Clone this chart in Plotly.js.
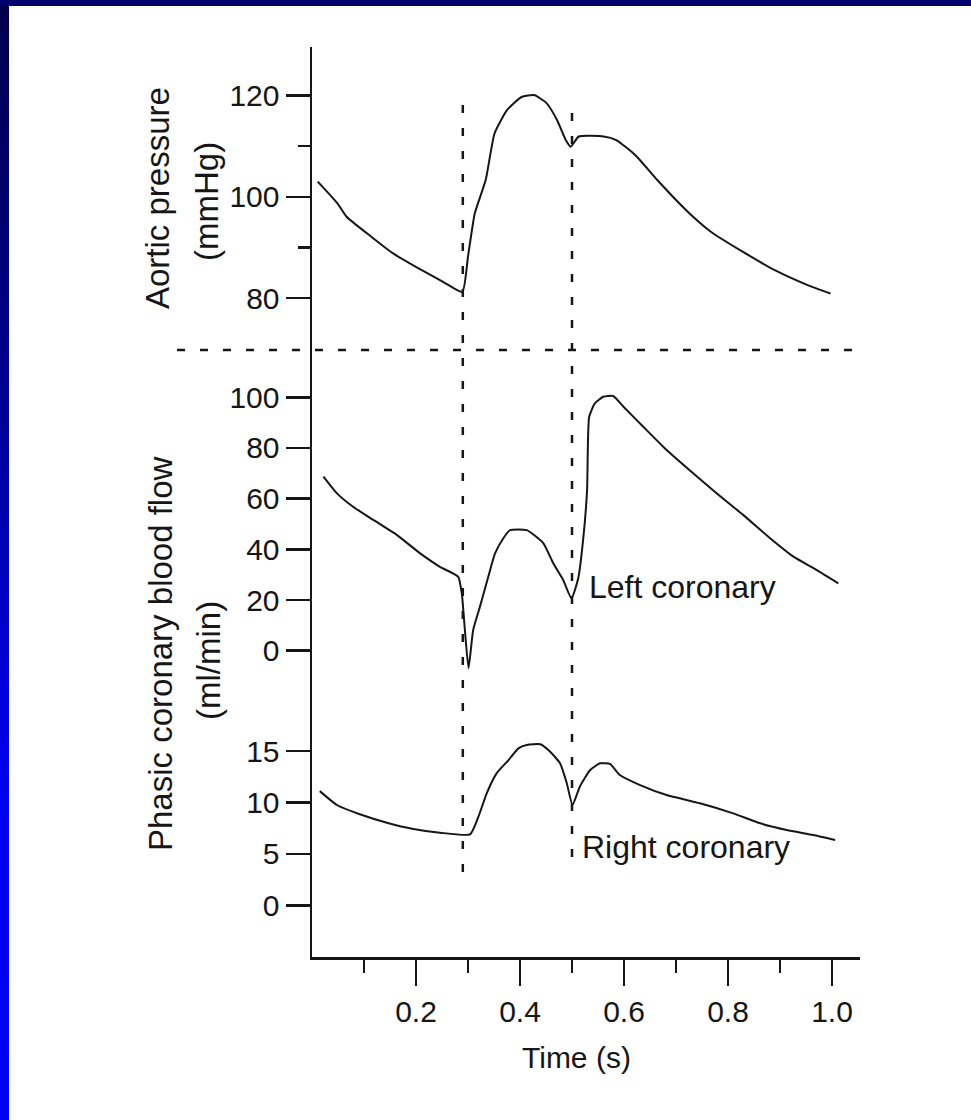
<!DOCTYPE html>
<html>
<head>
<meta charset="utf-8">
<script src="https://cdn.plot.ly/plotly-3.0.1.min.js"></script>
<style>
  html, body { margin: 0; padding: 0; background: #ffffff; }
  #wrap { position: relative; width: 971px; height: 1120px; overflow: hidden; background: #fff; }
  #chart { position: absolute; left: 0; top: 0; width: 971px; height: 1120px; }
  #leftbar { position: absolute; left: 0; top: 0; width: 9px; height: 1120px; z-index: 5;
    background: linear-gradient(to bottom, #00004a 0%, #000090 35%, #0000c8 55%, #0000f4 72%, #0000ff 100%); }
  #topbar { position: absolute; left: 0; top: 0; width: 971px; height: 6px; z-index: 5; background: #00006e; }
</style>
</head>
<body>
<div id="wrap">
  <div id="chart"></div>
  <div id="leftbar"></div>
  <div id="topbar"></div>
</div>
<script>
// ---- Data ----
// Aortic pressure (mmHg) vs time (s)
const aorticTime = [0.011,0.049,0.066,0.114,0.156,0.204,0.252,0.289,0.300,0.313,0.334,0.351,0.375,0.403,0.427,0.451,0.471,0.488,0.4975,0.513,0.561,0.585,0.622,0.664,0.719,0.767,0.829,0.890,0.952,0.997];
const aorticPressure = [103.0,98.7,96.1,92.1,88.8,85.9,83.2,81.2,88.2,96.7,103.3,112.5,117.1,119.7,120.1,118.5,115.2,111.2,109.9,111.9,111.9,111.2,108.2,103.3,97.4,93.1,89.1,85.5,82.6,80.9];

// Left coronary flow (ml/min)
const leftTime = [0.022,0.048,0.079,0.118,0.163,0.208,0.246,0.281,0.288,0.294,0.301,0.310,0.323,0.339,0.352,0.368,0.381,0.413,0.445,0.464,0.483,0.499,0.512,0.522,0.529,0.533,0.544,0.560,0.579,0.599,0.637,0.682,0.733,0.778,0.829,0.881,0.926,0.971,1.012];
const leftFlow = [68.7,62.1,56.8,51.6,45.7,38.4,33.1,29.2,22.7,8.2,-6.9,8.2,17.4,29.2,38.4,44.4,47.6,47.6,42.4,34.5,27.9,20.7,28.6,45.0,63.4,92.3,97.6,100.2,100.5,96.3,88.4,79.2,70.0,62.1,53.6,44.4,37.1,31.8,26.6];

// Right coronary flow (ml/min)
const rightTime = [0.015,0.048,0.092,0.144,0.195,0.246,0.304,0.320,0.336,0.355,0.378,0.397,0.413,0.439,0.458,0.477,0.490,0.501,0.515,0.535,0.554,0.573,0.592,0.631,0.682,0.746,0.810,0.862,0.913,0.964,1.006];
const rightFlow = [11.1,9.75,8.85,8.03,7.42,7.06,6.90,8.61,10.89,12.83,14.12,15.26,15.58,15.65,14.93,13.80,11.86,9.75,11.53,13.15,13.80,13.74,12.67,11.69,10.72,9.92,8.94,7.97,7.32,6.83,6.35];

// Event markers (s): start of ejection, end of systole
const eventTimes = [0.29, 0.50];

// Tick values / labels
const timeTicks = [0.2, 0.4, 0.6, 0.8, 1.0];
const timeTickLabels = ['0.2', '0.4', '0.6', '0.8', '1.0'];
const timeMinorTicks = [0.1, 0.3, 0.5, 0.7, 0.9];
const aorticTicks = [80, 100, 120];
const aorticMinorTicks = [90, 110];
const leftTicks = [0, 20, 40, 60, 80, 100];
const rightTicks = [0, 5, 10, 15];

// Text
const seriesLabels = ['Left coronary', 'Right coronary'];

// ---- Layout geometry ----
const FONT = '"Liberation Sans", Arial, Helvetica, sans-serif';
const INK = '#161616';
const plotTop = 47, plotBottom = 957, plotLeft = 312, plotRight = 860;
const plotH = plotBottom - plotTop, plotW = plotRight - plotLeft;
const fy = p => (plotBottom - p) / plotH;   // pixel y -> paper y
const fx = p => (p - plotLeft) / plotW;     // pixel x -> paper x

const lineStyle = { color: INK, width: 2, shape: 'spline', smoothing: 0.5 };
const traces = [
  { x: aorticTime, y: aorticPressure, xaxis: 'x', yaxis: 'y', type: 'scatter', mode: 'lines', line: lineStyle, hoverinfo: 'skip' },
  { x: leftTime, y: leftFlow, xaxis: 'x', yaxis: 'y2', type: 'scatter', mode: 'lines', line: lineStyle, hoverinfo: 'skip' },
  { x: rightTime, y: rightFlow, xaxis: 'x', yaxis: 'y3', type: 'scatter', mode: 'lines', line: lineStyle, hoverinfo: 'skip' }
];

const yCommon = {
  showline: true, linecolor: INK, linewidth: 2.5,
  ticks: 'outside', ticklen: 24, tickwidth: 2.5, tickcolor: INK,
  showgrid: false, zeroline: false, tickmode: 'array',
  tickfont: { family: FONT, size: 30, color: INK },
  fixedrange: true, anchor: 'x'
};

const dash = '8px,15px';
const dashLine = { color: INK, width: 2.5, dash: dash };

const layout = {
  width: 971, height: 1120,
  margin: { l: plotLeft, r: 971 - plotRight, t: plotTop, b: 1120 - plotBottom, pad: 0 },
  paper_bgcolor: '#ffffff', plot_bgcolor: '#ffffff',
  showlegend: false,
  xaxis: {
    range: [0, plotW / 520], showline: true, linecolor: INK, linewidth: 2.5,
    ticks: 'outside', ticklen: 26, tickwidth: 2.5, tickcolor: INK,
    tickmode: 'array', tickvals: timeTicks, ticktext: timeTickLabels,
    minor: { tickmode: 'array', tickvals: timeMinorTicks, ticks: 'outside', ticklen: 13, tickwidth: 2.5, tickcolor: INK, showgrid: false },
    tickfont: { family: FONT, size: 30, color: INK },
    showgrid: false, zeroline: false, fixedrange: true, anchor: 'y3'
  },
  yaxis: Object.assign({}, yCommon, {
    domain: [fy(350), 1], range: [80 - (350 - 298) / 5.0625, 120 + (95.5 - plotTop) / 5.0625],
    tickvals: aorticTicks,
    minor: { tickmode: 'array', tickvals: aorticMinorTicks, ticks: 'outside', ticklen: 12, tickwidth: 2.5, tickcolor: INK, showgrid: false }
  }),
  yaxis2: Object.assign({}, yCommon, {
    domain: [fy(700), fy(350)], range: [-(700 - 650.7) / 2.534, 100 + (397.3 - 350) / 2.534],
    tickvals: leftTicks
  }),
  yaxis3: Object.assign({}, yCommon, {
    domain: [0, fy(700)], range: [-(plotBottom - 905.3) / 10.287, 15 + (751 - 700) / 10.287],
    tickvals: rightTicks
  }),
  shapes: [
    { type: 'line', xref: 'x', yref: 'paper', x0: eventTimes[0], x1: eventTimes[0], y0: fy(872), y1: fy(91), line: dashLine },
    { type: 'line', xref: 'x', yref: 'paper', x0: eventTimes[1], x1: eventTimes[1], y0: fy(857), y1: fy(98), line: dashLine },
    { type: 'line', xref: 'paper', yref: 'paper', x0: fx(177), x1: fx(866), y0: fy(350), y1: fy(350), line: dashLine }
  ],
  annotations: [
    { text: 'Aortic pressure', xref: 'paper', yref: 'paper', x: fx(158), y: fy(198), textangle: -90, showarrow: false,
      xanchor: 'center', yanchor: 'middle', font: { family: FONT, size: 33, color: INK } },
    { text: '(mmHg)', xref: 'paper', yref: 'paper', x: fx(207), y: fy(202), textangle: -90, showarrow: false,
      xanchor: 'center', yanchor: 'middle', font: { family: FONT, size: 33, color: INK } },
    { text: 'Phasic coronary blood flow', xref: 'paper', yref: 'paper', x: fx(160), y: fy(654), textangle: -90, showarrow: false,
      xanchor: 'center', yanchor: 'middle', font: { family: FONT, size: 33, color: INK } },
    { text: '(ml/min)', xref: 'paper', yref: 'paper', x: fx(208), y: fy(661), textangle: -90, showarrow: false,
      xanchor: 'center', yanchor: 'middle', font: { family: FONT, size: 33, color: INK } },
    { text: 'Time (s)', xref: 'paper', yref: 'paper', x: fx(576), y: fy(1057), showarrow: false,
      xanchor: 'center', yanchor: 'middle', font: { family: FONT, size: 30, color: INK } },
    { text: seriesLabels[0], xref: 'x', yref: 'y2', x: 0.529, y: 25, showarrow: false,
      xanchor: 'left', yanchor: 'middle', font: { family: FONT, size: 32, color: INK } },
    { text: seriesLabels[1], xref: 'x', yref: 'y3', x: 0.5154, y: 5.7, showarrow: false,
      xanchor: 'left', yanchor: 'middle', font: { family: FONT, size: 32, color: INK } }
  ]
};

Plotly.newPlot('chart', traces, layout, { staticPlot: true, displayModeBar: false });
</script>
</body>
</html>
